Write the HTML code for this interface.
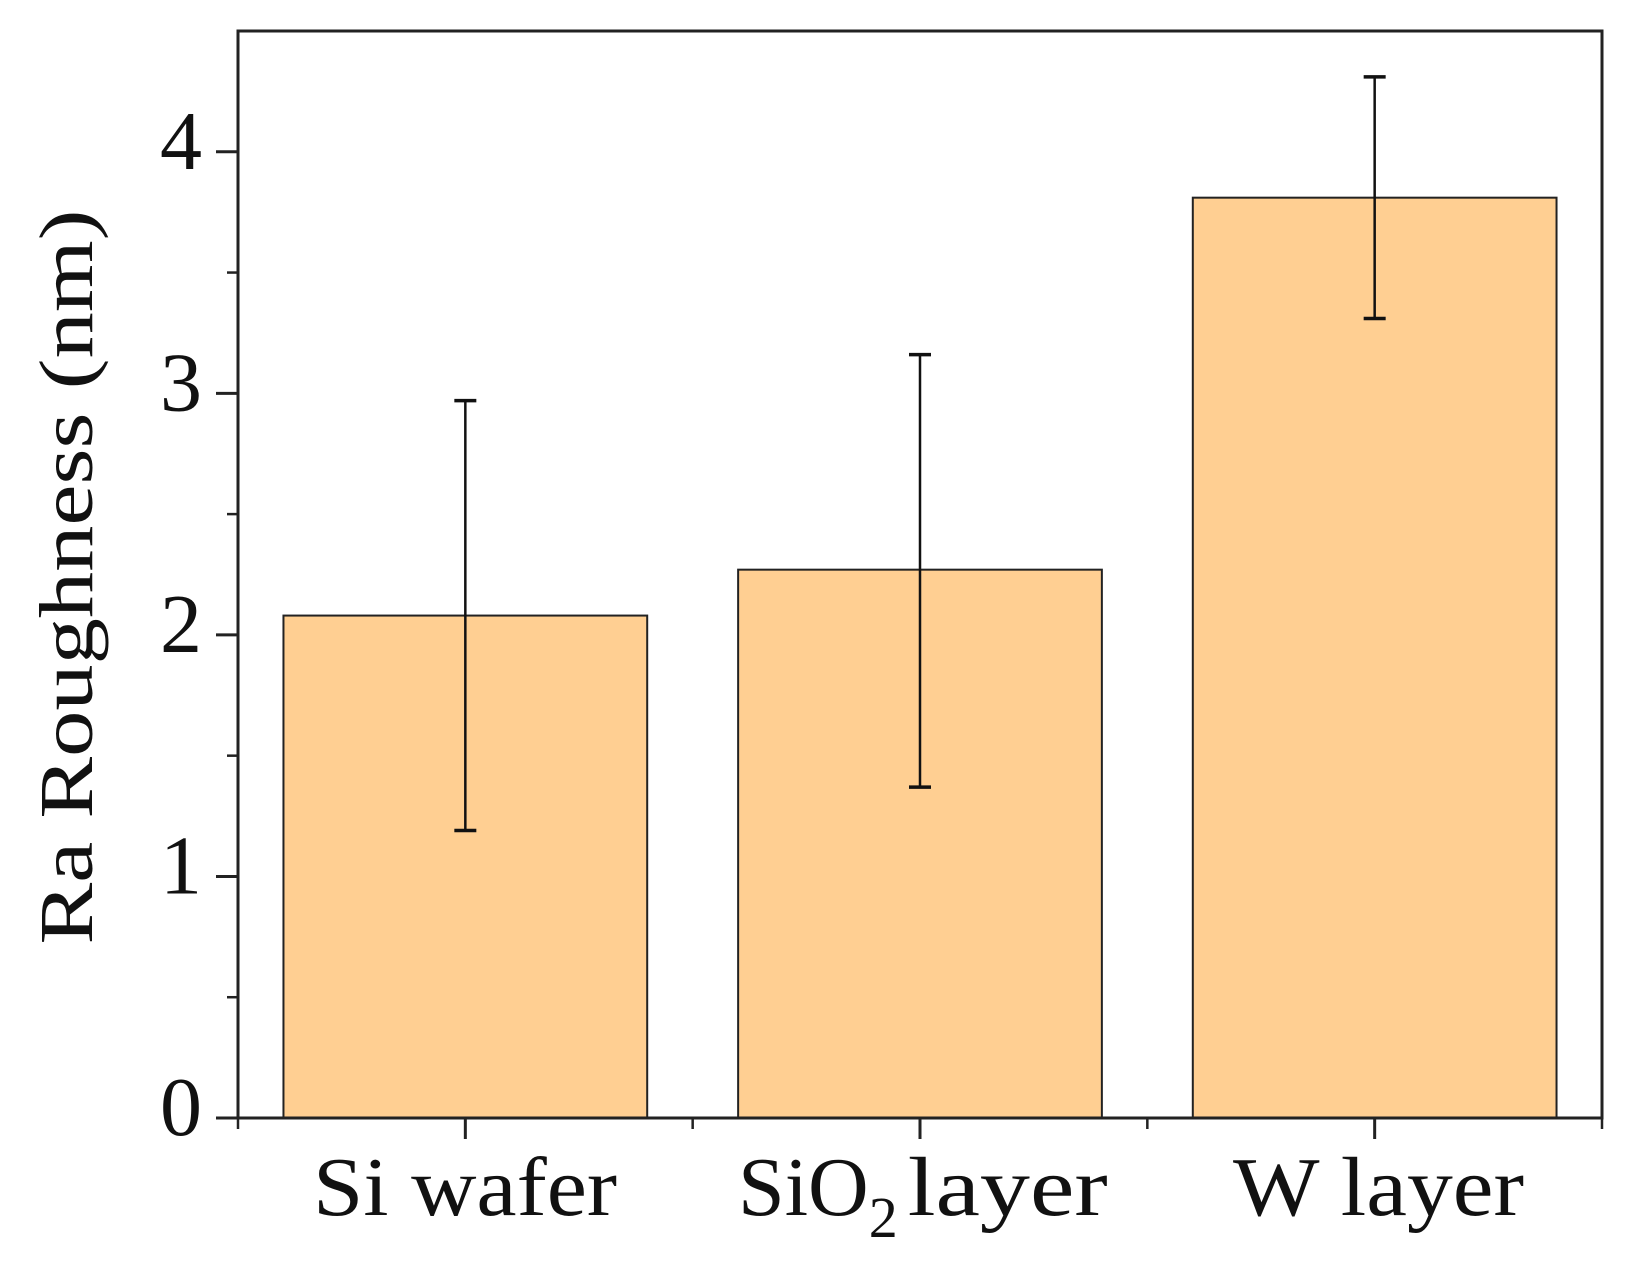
<!DOCTYPE html>
<html><head><meta charset="utf-8"><style>
html,body{margin:0;padding:0;background:#fff;}
svg{display:block;font-family:"Liberation Serif",serif;}
</style></head><body>
<svg id="chart" width="1635" height="1264" viewBox="0 0 1635 1264">
<g id="bars"></g>
<g id="errs"></g>
<g id="axes"></g>
<text transform="translate(92,577) rotate(-90)" text-anchor="middle" font-size="76" textLength="735" lengthAdjust="spacingAndGlyphs" fill="#111">Ra Roughness (nm)</text>
<g id="xlabels">
<text x="313" y="1215" font-size="84" textLength="304" lengthAdjust="spacingAndGlyphs" fill="#111">Si wafer</text>
<text x="738" y="1215" font-size="84" fill="#111">SiO<tspan font-size="58" dy="22">2</tspan><tspan dy="-22" dx="10" textLength="200" lengthAdjust="spacingAndGlyphs">layer</tspan></text>
<text x="1233" y="1215" font-size="84" textLength="291" lengthAdjust="spacingAndGlyphs" fill="#111">W layer</text>
</g>
</svg>
<script>
const categories = ["Si wafer", "SiO2 layer", "W layer"];
const values = [2.08, 2.27, 3.81];
const errLow = [1.19, 1.37, 3.31];
const errHigh = [2.97, 3.16, 4.31];
const yTicks = [0, 1, 2, 3, 4];
const yMinorTicks = [0.5, 1.5, 2.5, 3.5];

const X0 = 238, X1 = 1602, Y0 = 1118, YTOP = 31, YMAX = 4.5;
const band = (X1 - X0) / categories.length;
const barW = band * 0.80;
function y(v){ return Y0 - (v / YMAX) * (Y0 - YTOP); }
function xc(i){ return X0 + band * (i + 0.5); }
const NS = "http://www.w3.org/2000/svg";
function mk(tag, attrs, parent){
  const e = document.createElementNS(NS, tag);
  for (const k in attrs) e.setAttribute(k, attrs[k]);
  parent.appendChild(e); return e;
}
const gB = document.getElementById('bars'), gE = document.getElementById('errs'), gA = document.getElementById('axes');
categories.forEach((c, i) => {
  const r = mk('rect', {x: xc(i) - barW/2, y: y(values[i]), width: barW, height: Y0 - y(values[i]), fill: '#FFCF92', stroke: '#222', 'stroke-width': 2}, gB);
  
  
  const g = mk('g', {stroke: '#111', 'stroke-width': 2.5}, gE);
  
  
  mk('line', {x1: xc(i), x2: xc(i), y1: y(errLow[i]), y2: y(errHigh[i])}, g);
  mk('line', {x1: xc(i) - 11, x2: xc(i) + 11, y1: y(errLow[i]), y2: y(errLow[i]), 'stroke-width': 3.5}, g);
  mk('line', {x1: xc(i) - 11, x2: xc(i) + 11, y1: y(errHigh[i]), y2: y(errHigh[i]), 'stroke-width': 3.5}, g);
  const t = mk('line', {x1: xc(i), x2: xc(i), y1: Y0, y2: Y0 + 21, stroke: '#222', 'stroke-width': 3}, gA);
  
  
});
for (let i = 0; i <= categories.length; i++) {
  const t = mk('line', {x1: X0 + band*i, x2: X0 + band*i, y1: Y0, y2: Y0 + 11, stroke: '#222', 'stroke-width': 2.5}, gA);
  
  
}
const frame = mk('rect', {x: X0, y: YTOP, width: X1 - X0, height: Y0 - YTOP, fill: 'none', stroke: '#222', 'stroke-width': 3}, gA);


yTicks.forEach(v => {
  const t = mk('line', {x1: X0 - 22, x2: X0, y1: y(v), y2: y(v), stroke: '#222', 'stroke-width': 3}, gA);
  
  
  const l = mk('text', {x: 202, y: y(v) + 17, 'text-anchor': 'end', 'font-size': 84, fill: '#111'}, gA);
  l.textContent = v;
  
  
});
yMinorTicks.forEach(v => {
  const t = mk('line', {x1: X0 - 11, x2: X0, y1: y(v), y2: y(v), stroke: '#222', 'stroke-width': 2.5}, gA);
  
  
});
</script>
</body></html>
